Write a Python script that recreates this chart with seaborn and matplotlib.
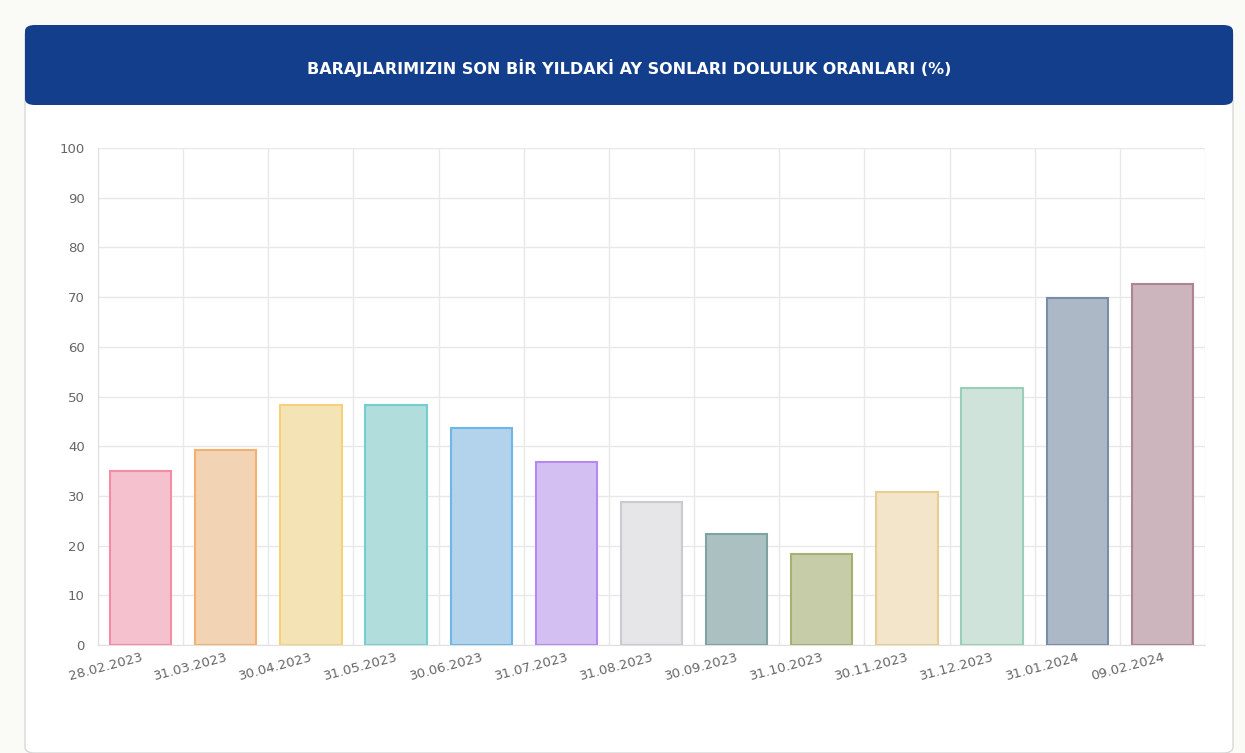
import matplotlib
matplotlib.use("Agg")
import matplotlib.pyplot as plt
from matplotlib.patches import FancyBboxPatch
import seaborn as sns
import pandas as pd

dates = ["28.02.2023", "31.03.2023", "30.04.2023", "31.05.2023", "30.06.2023", "31.07.2023",
         "31.08.2023", "30.09.2023", "31.10.2023", "30.11.2023", "31.12.2023", "31.01.2024", "09.02.2024"]
doluluk = [35.0, 39.2, 48.3, 48.3, 43.7, 36.8, 28.8, 22.3, 18.3, 30.8, 51.7, 69.8, 72.6]
fill_colors = ["#FFB8C9", "#FDD3A8", "#FFE8A9", "#AAE4E3", "#A9D4F4", "#D3B7FA", "#E5E6EA",
               "#A8C3C3", "#CAD2A2", "#F9E7C2", "#CBE7DA", "#A9B7CB", "#D0B1BB"]
edge_colors = ["#F58CA6", "#F5B070", "#F5D27A", "#72CFCD", "#6DB6E8", "#B48AF0", "#C9CBD0",
               "#7FA3A3", "#A6B070", "#E8CC90", "#9ACFB7", "#7A8DA8", "#B0848F"]

df = pd.DataFrame({"tarih": dates, "oran": doluluk})

sns.set_style("white")
fig = plt.figure(figsize=(12.45, 7.53), dpi=100)
fig.patch.set_facecolor("#FAFAF7")

# card + header, kept behind the axes
card = FancyBboxPatch((25 / 1245, 0), 1208 / 1245, (753 - 25) / 753 - 0.005,
                      boxstyle="round,pad=0,rounding_size=0.008", transform=fig.transFigure,
                      facecolor="white", edgecolor="#D8D8D8", lw=1, zorder=-2)
fig.patches.append(card)
header = FancyBboxPatch((25 / 1245, (753 - 105) / 753), 1208 / 1245, 80 / 753,
                        boxstyle="round,pad=0,rounding_size=0.008", transform=fig.transFigure,
                        facecolor="#123E8C", edgecolor="none", zorder=-1)
fig.patches.append(header)
fig.text(629 / 1245, (753 - 68) / 753, "BARAJLARIMIZIN SON BİR YILDAKİ AY SONLARI DOLULUK ORANLARI (%)",
         color="white", fontsize=11.5, fontweight="bold", ha="center", va="center")

ax = fig.add_axes([98 / 1245, (753 - 645) / 753, 1107 / 1245, 497 / 753])
ax.set_facecolor("none")
sns.barplot(data=df, x="tarih", y="oran", hue="tarih", palette=fill_colors, legend=False,
            width=0.72, ax=ax, zorder=3)
for bar, ec in zip(ax.patches, edge_colors):
    bar.set_edgecolor(ec)
    bar.set_linewidth(1.5)

ax.set_ylim(0, 100)
ax.set_xlim(-0.5, len(dates) - 0.5)
ax.set_yticks(range(0, 101, 10))
ax.set_xlabel("")
ax.set_ylabel("")
ax.set_xticks([i + 0.5 for i in range(-1, len(dates))], minor=True)
ax.grid(True, which="minor", axis="x", color="#E8E8E8", lw=1, zorder=0)
ax.grid(True, which="major", axis="y", color="#E8E8E8", lw=1, zorder=0)
ax.tick_params(axis="x", which="major", length=0, labelsize=9.5, colors="#666666", pad=4)
ax.tick_params(axis="x", which="minor", length=0)
ax.tick_params(axis="y", length=6, color="#E8E8E8", labelsize=9.5, colors="#666666")
plt.setp(ax.get_xticklabels(), rotation=15, ha="right", rotation_mode="anchor")
for s in ax.spines.values():
    s.set_visible(False)
ax.spines["left"].set_visible(True)
ax.spines["left"].set_color("#E0E0E0")
ax.spines["bottom"].set_visible(True)
ax.spines["bottom"].set_color("#E0E0E0")

fig.savefig("out.png", dpi=100, facecolor=fig.get_facecolor())
